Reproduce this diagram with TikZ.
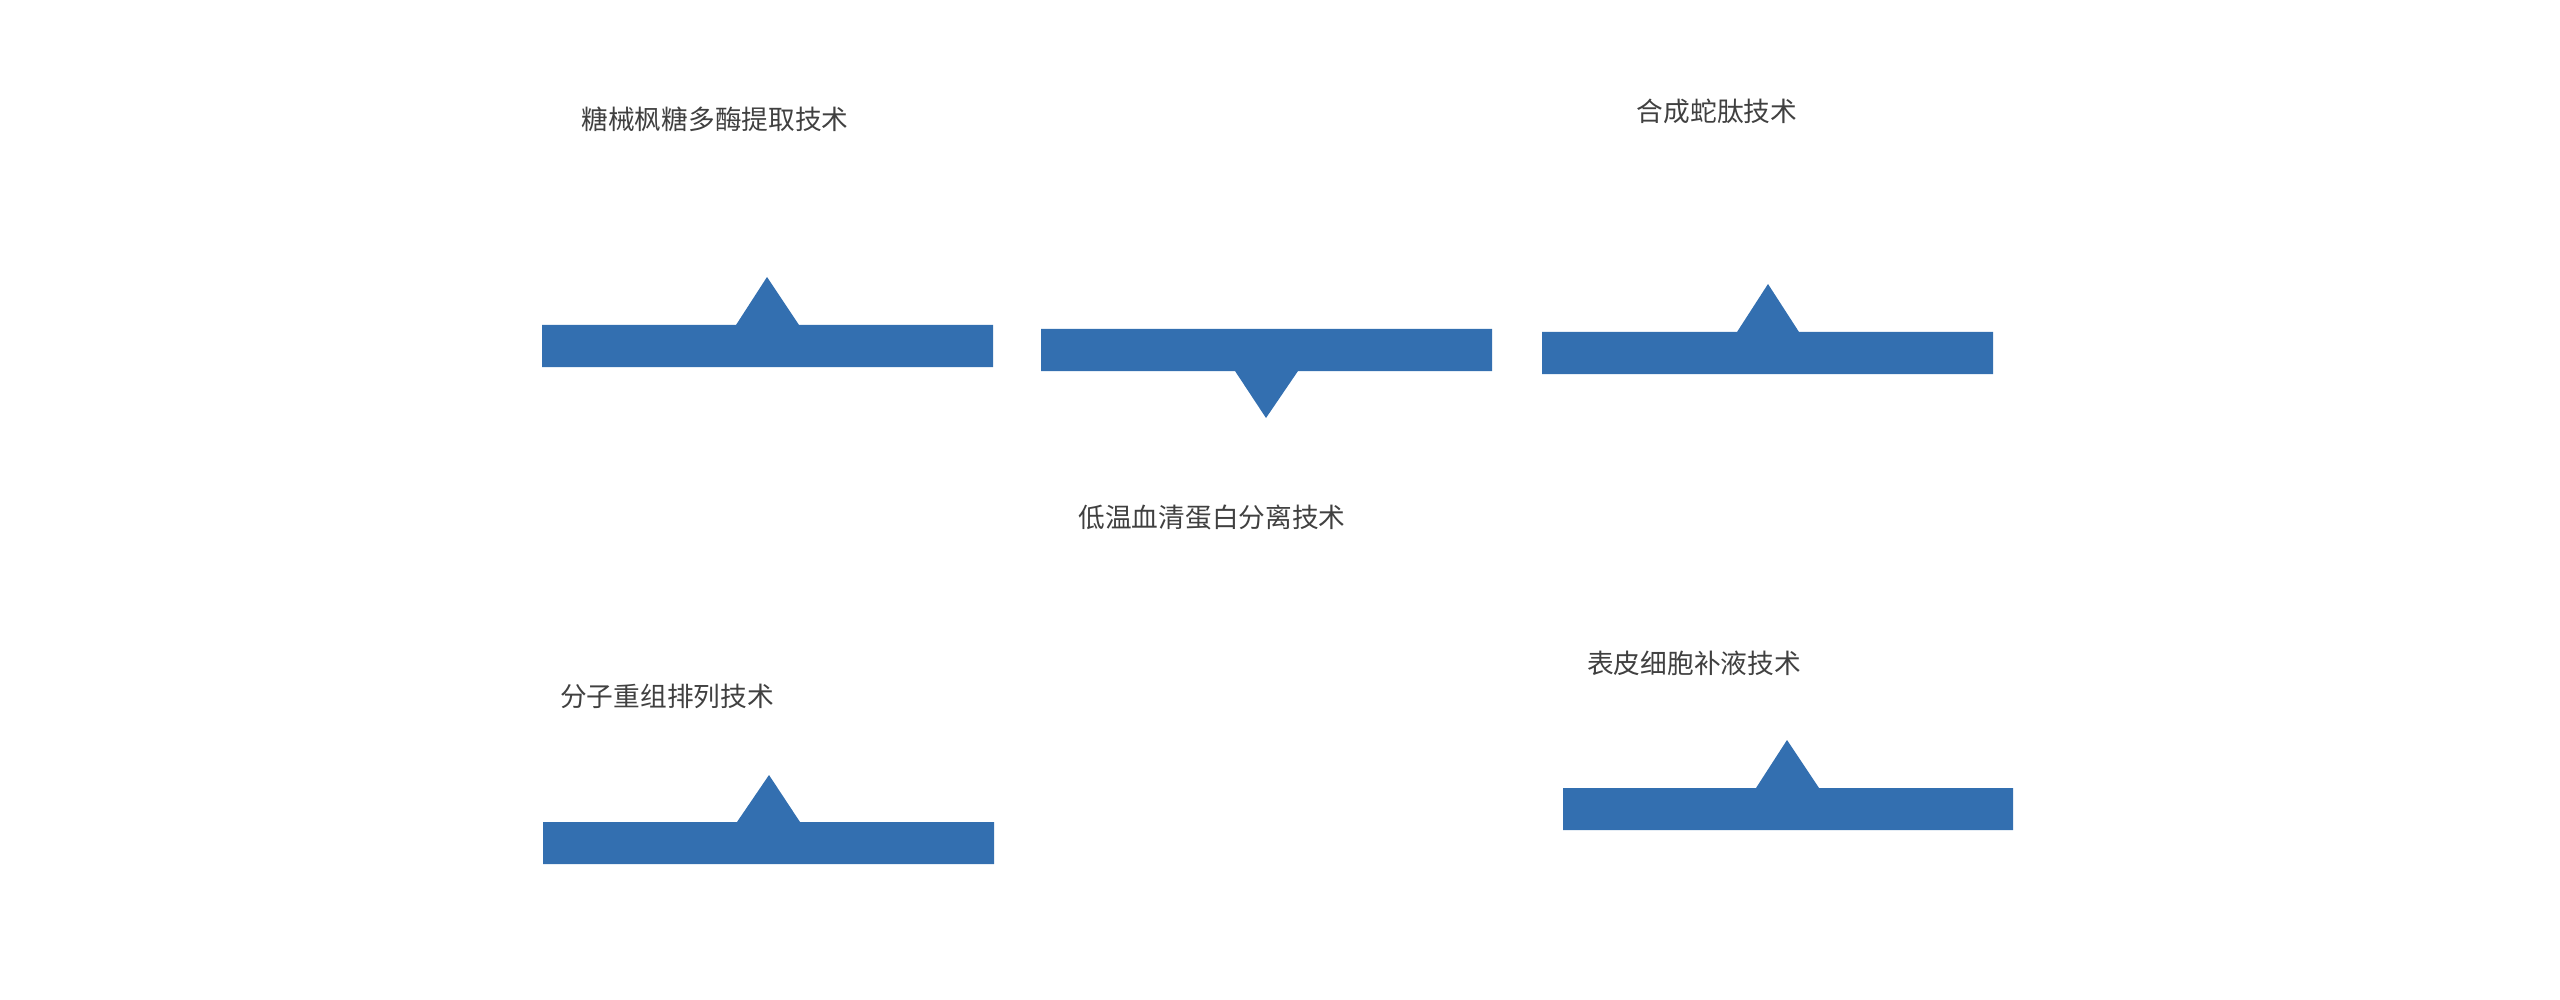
\documentclass[tikz,border=0pt]{standalone}
\usepackage{fontspec}
\newfontfamily\cjk{Noto Sans CJK SC}
\definecolor{barblue}{RGB}{51,111,176}
\definecolor{labelgray}{RGB}{64,64,64}
\begin{document}
\begin{tikzpicture}[x=1pt,y=-1pt,
  barshape/.style={fill=barblue,draw=none},
  label/.style={text=labelgray,inner sep=0pt,font=\cjk\fontsize{26.7}{32}\selectfont}]
\useasboundingbox (0,0) rectangle (2560,1000);
% bars with pointer
\fill[barshape] (542,325) -- (736,325) -- (767,277) -- (799,325) -- (993,325) -- (993,367) -- (542,367) -- cycle;
\fill[barshape] (1041,329) -- (1492,329) -- (1492,371) -- (1298,371) -- (1266,418) -- (1235,371) -- (1041,371) -- cycle;
\fill[barshape] (1542,332) -- (1737,332) -- (1768,284) -- (1799,332) -- (1993,332) -- (1993,374) -- (1542,374) -- cycle;
\fill[barshape] (543,822) -- (737,822) -- (769,775) -- (800,822) -- (994,822) -- (994,864) -- (543,864) -- cycle;
\fill[barshape] (1563,788) -- (1756,788) -- (1787,740) -- (1819,788) -- (2013,788) -- (2013,830) -- (1563,830) -- cycle;
% labels
\node[label] (t1) at (715,119.3) {糖械枫糖多酶提取技术};
\node[label] (t2) at (1212,517.5) {低温血清蛋白分离技术};
\node[label] (t3) at (1717,111.7) {合成蛇肽技术};
\node[label] (t4) at (667,696.3) {分子重组排列技术};
\node[label] (t5) at (1694,663.3) {表皮细胞补液技术};
\end{tikzpicture}
\end{document}
